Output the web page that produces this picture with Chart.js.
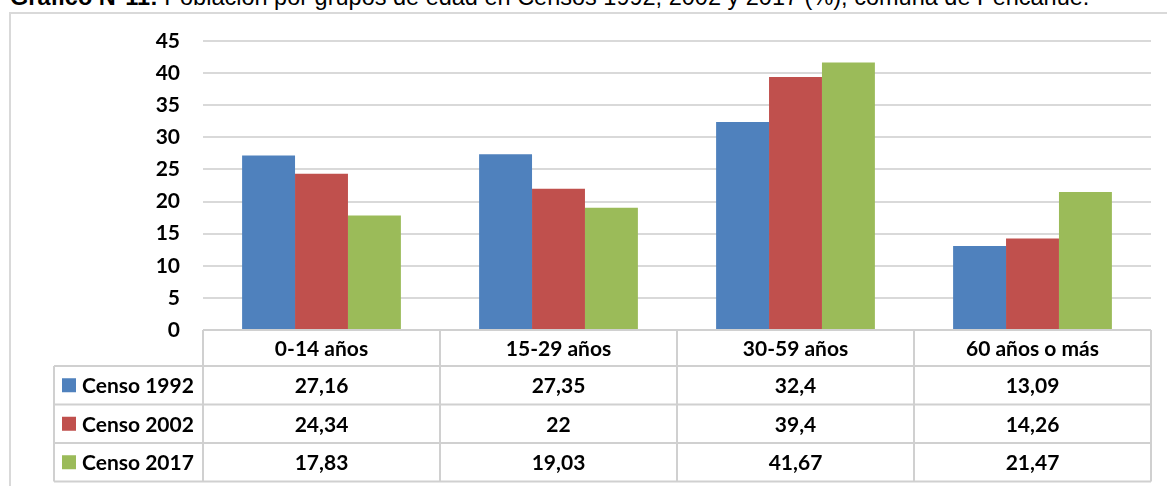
<!DOCTYPE html>
<html>
<head>
<meta charset="utf-8">
<script src="https://cdn.jsdelivr.net/npm/chart.js@4/dist/chart.umd.min.js"></script>
<style>
  html, body { margin: 0; padding: 0; background: #fff; overflow: hidden; }
  #wrap { position: relative; width: 1167px; height: 486px; overflow: hidden; }
  #title { position: absolute; left: 10px; top: -16px; white-space: nowrap;
           font-family: "Liberation Sans Narrow", "Liberation Sans", Arial, sans-serif; font-size: 23.5px; color: #000; }
  #frame { position: absolute; left: 9px; top: 12px; width: 1200px; height: 520px; border: 2px solid #d9d9d9; box-sizing: border-box; }
  #chartBox { position: absolute; left: 0; top: 0; width: 1167px; height: 486px; }
</style>
</head>
<body>
<div id="wrap">
  <div id="title"><b>Gráfico N°11:</b> Población por grupos de edad en Censos 1992, 2002 y 2017 (%), comuna de Pencahue.</div>
  <div id="frame"></div>
  <div id="chartBox"><canvas id="popChart" width="1167" height="486"></canvas></div>
</div>
<script>
const categories = ['0-14 años', '15-29 años', '30-59 años', '60 años o más'];
const seriesNames = ['Censo 1992', 'Censo 2002', 'Censo 2017'];
const censo1992 = [27.16, 27.35, 32.4, 13.09];
const censo2002 = [24.34, 22, 39.4, 14.26];
const censo2017 = [17.83, 19.03, 41.67, 21.47];
const yTicks = [0, 5, 10, 15, 20, 25, 30, 35, 40, 45];

const colors = ['#4f81bd', '#c0504d', '#9bbb59'];
const seriesValues = [censo1992, censo2002, censo2017];
const font = { family: 'Lato', size: 21, weight: 'bold' };

// data table under the bars, drawn from the same arrays
const dataTable = {
    id: 'dataTable',
    afterDraw(chart) {
        const ctx = chart.ctx;
        const x = chart.scales.x;
        const area = chart.chartArea;
        const colW = x.getPixelForValue(1) - x.getPixelForValue(0);
        const headH = 36, rowH = 38.5, legendLeft = 54;
        const top = area.bottom;
        const rowsTop = top + headH;
        const bottom = rowsTop + rowH * seriesNames.length;

        ctx.save();
        ctx.strokeStyle = '#d0d0d0';
        ctx.lineWidth = 2;
        ctx.beginPath();
        ctx.moveTo(area.left, top); ctx.lineTo(area.right, top);
        for (let r = 0; r <= seriesNames.length; r++) {
            const y = rowsTop + r * rowH;
            ctx.moveTo(legendLeft, y); ctx.lineTo(area.right, y);
        }
        ctx.moveTo(legendLeft, rowsTop); ctx.lineTo(legendLeft, bottom);
        for (let c = 0; c <= categories.length; c++) {
            const xx = area.left + c * colW;
            ctx.moveTo(xx, top); ctx.lineTo(xx, bottom);
        }
        ctx.stroke();

        ctx.font = 'bold 21px Lato';
        ctx.textBaseline = 'middle';
        seriesNames.forEach((name, r) => {
            const yMid = rowsTop + r * rowH + rowH / 2;
            ctx.fillStyle = colors[r];
            ctx.fillRect(62, yMid - 7, 14, 14);
            ctx.fillStyle = '#000';
            ctx.textAlign = 'left';
            ctx.fillText(name, 82, yMid + 1);
            ctx.textAlign = 'center';
            seriesValues[r].forEach((v, i) => {
                ctx.fillText(String(v).replace('.', ','), x.getPixelForValue(i), yMid + 1);
            });
        });
        ctx.restore();
    }
};

const ctx = document.getElementById('popChart').getContext('2d');
const popChart = new Chart(ctx, {
    type: 'bar',
    data: {
        labels: categories,
        datasets: seriesNames.map((name, i) => ({
            label: name,
            data: seriesValues[i],
            backgroundColor: colors[i],
            borderWidth: 0,
            categoryPercentage: 0.67,
            barPercentage: 1
        }))
    },
    options: {
        responsive: false,
        animation: false,
        layout: { padding: { top: 41, right: 16, bottom: 0, left: 0 } },
        plugins: {
            legend: { display: false },
            tooltip: { enabled: false }
        },
        scales: {
            x: {
                grid: { display: false, drawTicks: false },
                border: { display: false },
                ticks: { color: '#000', font: font, padding: 7, maxRotation: 0 },
                afterFit: function(scale) { scale.height = 156; }
            },
            y: {
                min: 0,
                max: 45,
                afterBuildTicks: function(scale) { scale.ticks = yTicks.map(v => ({ value: v })); },
                grid: { color: '#d9d9d9', lineWidth: 2, drawTicks: false },
                border: { display: false },
                ticks: { color: '#000', font: font, padding: 23 },
                afterFit: function(scale) { scale.width = 203; }
            }
        }
    },
    plugins: [dataTable]
});
</script>
</body>
</html>
